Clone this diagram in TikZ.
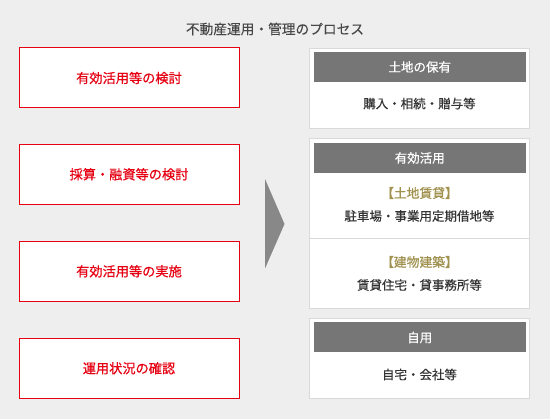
\documentclass[tikz,border=0pt]{standalone}
\usepackage{fontspec}
\newfontfamily\jp[FakeBold=0.25]{Noto Sans CJK JP}
\newfontfamily\jpm[FakeBold=0.6]{Noto Sans CJK JP}
\definecolor{bg}{HTML}{EEEEEE}
\definecolor{redc}{HTML}{E60012}
\definecolor{hdr}{HTML}{767676}
\definecolor{pline}{HTML}{D9D9D9}
\definecolor{gold}{HTML}{A0914F}
\definecolor{txt}{HTML}{333333}
\definecolor{arr}{HTML}{888888}
\tikzset{
  x=1pt, y=-1pt,
  stepbox/.style={draw=redc, line width=1pt, fill=white, minimum width=220pt, minimum height=60pt, inner sep=0pt, text=redc, font=\jpm\fontsize{13.2}{13.2}\selectfont},
  panel/.style={draw=pline, line width=1pt, fill=white},
  hdrbox/.style={fill=hdr, draw=none},
  hdrtext/.style={text=white, font=\jpm\fontsize{12.5}{12.5}\selectfont, inner sep=0pt},
  bodytext/.style={text=txt, font=\jp\fontsize{12.5}{12.5}\selectfont, inner sep=0pt},
  goldtext/.style={text=gold, font=\jpm\fontsize{12.8}{12.8}\selectfont, inner sep=0pt},
}
\begin{document}
\begin{tikzpicture}
\fill[bg] (0,0) rectangle (550,419);
\useasboundingbox (0,0) rectangle (550,419);
% title
\node[bodytext, text=txt!90, font=\jp\fontsize{13.7}{13.7}\selectfont] (title) at (275,29) {不動産運用・管理のプロセス};
% left steps
\node[stepbox] (s1) at (129,78) {有効活用等の検討};
\node[stepbox] (s2) at (129,174.3) {採算・融資等の検討};
\node[stepbox] (s3) at (129,271.3) {有効活用等の実施};
\node[stepbox] (s4) at (129,368.3) {運用状況の確認};
% arrow
\fill[arr] (265,179) -- (284.5,224) -- (265,268.5) -- cycle;
% panel 1
\draw[panel] (309.5,48.5) rectangle (529.5,128.5);
\fill[hdrbox] (313.5,52) rectangle (526,82);
\node[hdrtext] (h1) at (419.75,67) {土地の保有};
\node[bodytext] (b1) at (419.5,103.5) {購入・相続・贈与等};
% panel 2
\draw[panel] (309.5,138.5) rectangle (529.5,308.5);
\fill[hdrbox] (313.5,143) rectangle (526,173);
\node[hdrtext] (h2) at (419.75,158) {有効活用};
\draw[pline, line width=1pt] (309.5,238.5) -- (529.5,238.5);
\node[goldtext] (g1) at (419.5,193) {【土地賃貸】};
\node[bodytext] (b2) at (419.5,216) {駐車場・事業用定期借地等};
\node[goldtext] (g2) at (419.5,262) {【建物建築】};
\node[bodytext] (b3) at (419.5,285) {賃貸住宅・貸事務所等};
% panel 3
\draw[panel] (309.5,318.5) rectangle (529.5,398.5);
\fill[hdrbox] (313.5,322.5) rectangle (526,352.5);
\node[hdrtext] (h3) at (419.75,337.5) {自用};
\node[bodytext] (b4) at (419.5,374.5) {自宅・会社等};
\end{tikzpicture}
\end{document}
